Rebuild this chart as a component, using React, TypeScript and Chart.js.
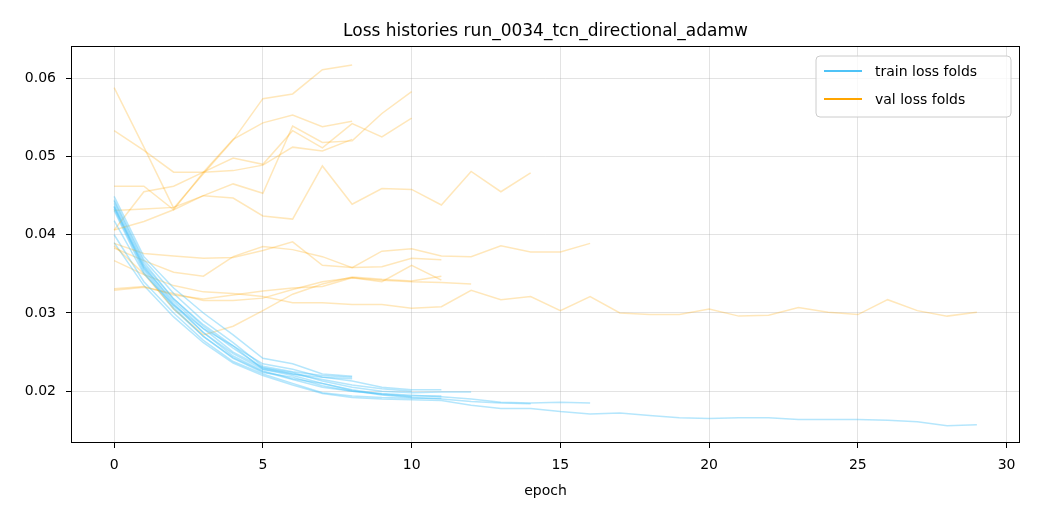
import React, { useEffect, useRef } from "react";
import { Chart, registerables } from "chart.js";

Chart.register(...registerables);

const TITLE = "Loss histories run_0034_tcn_directional_adamw";
const X_LABEL = "epoch";
const X_TICKS = [0, 5, 10, 15, 20, 25, 30];
const Y_TICKS = [0.02, 0.03, 0.04, 0.05, 0.06];
const LEGEND_LABELS = ["train loss folds", "val loss folds"];

const trainFold1 = [0.0449, 0.0372, 0.0332, 0.0300, 0.0272, 0.0242, 0.0235, 0.0222, 0.0219];
const trainFold2 = [0.0445, 0.0368, 0.0325, 0.0290, 0.0262, 0.0232, 0.0225, 0.0220, 0.0218];
const trainFold3 = [0.0418, 0.0350, 0.0310, 0.0280, 0.0258, 0.0228, 0.0222, 0.0218, 0.0216];
const trainFold4 = [0.0443, 0.0365, 0.0318, 0.0283, 0.0255, 0.0230, 0.0222, 0.0215, 0.0208, 0.0203, 0.0200];
const trainFold5 = [0.0437, 0.0360, 0.0312, 0.0275, 0.0245, 0.0226, 0.0216, 0.0210, 0.0202, 0.0196, 0.0193];
const trainFold6 = [0.0440, 0.0362, 0.0318, 0.0285, 0.0258, 0.0235, 0.0228, 0.0218, 0.0213, 0.0205, 0.0202, 0.0202];
const trainFold7 = [0.0433, 0.0355, 0.0307, 0.0270, 0.0243, 0.0225, 0.0215, 0.0205, 0.0200, 0.0196, 0.0194, 0.0194];
const trainFold8 = [0.0400, 0.0340, 0.0300, 0.0265, 0.0238, 0.0222, 0.0210, 0.0198, 0.0194, 0.0192, 0.0191, 0.0191];
const trainFold9 = [0.0435, 0.0358, 0.0315, 0.0280, 0.0250, 0.0230, 0.0224, 0.0213, 0.0205, 0.0200, 0.0198, 0.0199, 0.0199];
const trainFold10 = [0.0436, 0.0357, 0.0310, 0.0275, 0.0248, 0.0228, 0.0220, 0.0210, 0.0201, 0.0195, 0.0192, 0.0190, 0.0187, 0.0185, 0.0184];
const trainFold11 = [0.0431, 0.0352, 0.0305, 0.0270, 0.0242, 0.0224, 0.0218, 0.0207, 0.0200, 0.0197, 0.0195, 0.0193, 0.0190, 0.0186, 0.0185, 0.0186, 0.0185];
const trainFold12 = [0.0390, 0.0335, 0.0295, 0.0262, 0.0236, 0.0220, 0.0208, 0.0197, 0.0192, 0.0190, 0.0189, 0.0188, 0.0182, 0.0178, 0.0178, 0.0174, 0.0171, 0.0172, 0.0169, 0.0166, 0.0165, 0.0166, 0.0166, 0.0164, 0.0164, 0.0164, 0.0163, 0.0161, 0.0156, 0.0157];

const valFold1 = [0.0588, 0.0512, 0.0434, 0.0478, 0.0521, 0.0574, 0.0580, 0.0611, 0.0617];
const valFold2 = [0.0462, 0.0462, 0.0432, 0.0480, 0.0522, 0.0543, 0.0553, 0.0538, 0.0545];
const valFold3 = [0.0533, 0.0508, 0.0480, 0.0480, 0.0482, 0.0489, 0.0512, 0.0507, 0.0522];
const valFold4 = [0.0406, 0.0417, 0.0432, 0.0450, 0.0465, 0.0453, 0.0539, 0.0518, 0.0520, 0.0555, 0.0583];
const valFold5 = [0.0406, 0.0455, 0.0462, 0.0480, 0.0498, 0.0490, 0.0533, 0.0511, 0.0542, 0.0525, 0.0549];
const valFold6 = [0.0389, 0.0376, 0.0373, 0.0370, 0.0371, 0.0380, 0.0391, 0.0361, 0.0358, 0.0359, 0.0370, 0.0368];
const valFold7 = [0.0386, 0.0350, 0.0305, 0.0272, 0.0283, 0.0303, 0.0324, 0.0337, 0.0346, 0.0343, 0.0341, 0.0347];
const valFold8 = [0.0331, 0.0334, 0.0323, 0.0318, 0.0323, 0.0328, 0.0332, 0.0334, 0.0345, 0.0340, 0.0361, 0.0342];
const valFold9 = [0.0329, 0.0333, 0.0325, 0.0316, 0.0316, 0.0319, 0.0330, 0.0340, 0.0345, 0.0342, 0.0340, 0.0339, 0.0337];
const valFold10 = [0.0431, 0.0433, 0.0435, 0.0450, 0.0447, 0.0424, 0.0420, 0.0488, 0.0439, 0.0459, 0.0458, 0.0438, 0.0481, 0.0455, 0.0479];
const valFold11 = [0.0383, 0.0367, 0.0352, 0.0347, 0.0372, 0.0385, 0.0381, 0.0372, 0.0358, 0.0379, 0.0382, 0.0373, 0.0372, 0.0386, 0.0378, 0.0378, 0.0389];
const valFold12 = [0.0367, 0.0349, 0.0335, 0.0327, 0.0325, 0.0321, 0.0313, 0.0313, 0.0311, 0.0311, 0.0306, 0.0308, 0.0329, 0.0317, 0.0321, 0.0303, 0.0321, 0.0300, 0.0298, 0.0298, 0.0305, 0.0296, 0.0297, 0.0307, 0.0301, 0.0298, 0.0317, 0.0303, 0.0296, 0.0301];

const TRAIN_FOLDS = [trainFold1, trainFold2, trainFold3, trainFold4, trainFold5, trainFold6, trainFold7, trainFold8, trainFold9, trainFold10, trainFold11, trainFold12];
const VAL_FOLDS = [valFold1, valFold2, valFold3, valFold4, valFold5, valFold6, valFold7, valFold8, valFold9, valFold10, valFold11, valFold12];

const TRAIN_COLOR = "#4fc3f7";
const VAL_COLOR = "#ffa500";
const TRAIN_ALPHA_COLOR = "rgba(79,195,247,0.42)";
const VAL_ALPHA_COLOR = "rgba(255,165,0,0.27)";
const FONT = "'DejaVu Sans', sans-serif";

const W = 1040;
const H = 520;
const AREA = { left: 71, top: 46, right: 1020, bottom: 443 };

const decorPlugin = {
  id: "decor",
  afterDraw(chart: any) {
    const ctx = chart.ctx;
    const a = chart.chartArea;
    ctx.save();
    ctx.strokeStyle = "#000";
    ctx.lineWidth = 1;
    ctx.strokeRect(a.left + 0.5, a.top + 0.5, a.right - a.left - 1, a.bottom - a.top - 1);
    ctx.fillStyle = "#000";
    ctx.font = `17px ${FONT}`;
    ctx.textAlign = "center";
    ctx.textBaseline = "alphabetic";
    ctx.fillText(TITLE, (a.left + a.right) / 2, 36);
    ctx.font = `14px ${FONT}`;
    ctx.fillText(X_LABEL, (a.left + a.right) / 2, 495);
    const lx = 816, ly = 56, lw = 195, lh = 61, r = 4;
    ctx.beginPath();
    ctx.moveTo(lx + r, ly);
    ctx.lineTo(lx + lw - r, ly);
    ctx.arcTo(lx + lw, ly, lx + lw, ly + r, r);
    ctx.lineTo(lx + lw, ly + lh - r);
    ctx.arcTo(lx + lw, ly + lh, lx + lw - r, ly + lh, r);
    ctx.lineTo(lx + r, ly + lh);
    ctx.arcTo(lx, ly + lh, lx, ly + lh - r, r);
    ctx.lineTo(lx, ly + r);
    ctx.arcTo(lx, ly, lx + r, ly, r);
    ctx.closePath();
    ctx.fillStyle = "rgba(255,255,255,0.8)";
    ctx.fill();
    ctx.strokeStyle = "#cccccc";
    ctx.stroke();
    const colors = [TRAIN_COLOR, VAL_COLOR];
    LEGEND_LABELS.forEach((label, i) => {
      const y = 71 + i * 28;
      ctx.strokeStyle = colors[i];
      ctx.lineWidth = 2;
      ctx.beginPath();
      ctx.moveTo(824, y);
      ctx.lineTo(862, y);
      ctx.stroke();
      ctx.fillStyle = "#000";
      ctx.font = `14px ${FONT}`;
      ctx.textAlign = "left";
      ctx.textBaseline = "middle";
      ctx.fillText(label, 875, y + 1);
    });
    ctx.restore();
  },
};

export default function App() {
  const ref = useRef<HTMLCanvasElement | null>(null);

  useEffect(() => {
    const canvas = ref.current;
    if (!canvas) return;
    const datasets: any[] = [];
    TRAIN_FOLDS.forEach((fold, k) => {
      datasets.push({
        label: `train fold ${k + 1}`,
        data: fold.map((v, i) => ({ x: i, y: v })),
        borderColor: TRAIN_ALPHA_COLOR,
        borderWidth: 1.5,
        pointRadius: 0,
        tension: 0,
        fill: false,
      });
      datasets.push({
        label: `val fold ${k + 1}`,
        data: VAL_FOLDS[k].map((v, i) => ({ x: i, y: v })),
        borderColor: VAL_ALPHA_COLOR,
        borderWidth: 1.5,
        pointRadius: 0,
        tension: 0,
        fill: false,
      });
    });

    const chart = new Chart(canvas, {
      type: "line",
      data: { datasets },
      options: {
        animation: false,
        responsive: false,
        devicePixelRatio: 1,
        layout: { padding: { top: AREA.top, right: W - AREA.right, left: 0, bottom: 0 } },
        plugins: {
          legend: { display: false },
          tooltip: { enabled: false },
          title: { display: false },
        },
        scales: {
          x: {
            type: "linear",
            min: -1.45,
            max: 30.45,
            afterFit: (s: any) => {
              s.height = H - AREA.bottom;
            },
            afterBuildTicks: (s: any) => {
              s.ticks = X_TICKS.map((v) => ({ value: v }));
            },
            grid: {
              color: "rgba(176,176,176,0.35)",
              tickColor: "#000",
              tickLength: 5,
              drawOnChartArea: true,
            },
            border: { display: false },
            ticks: {
              color: "#000",
              padding: 9,
              font: { family: FONT, size: 14 },
              callback: (v: any) => String(v),
              maxRotation: 0,
            },
          },
          y: {
            type: "linear",
            min: 0.01338,
            max: 0.06413,
            afterFit: (s: any) => {
              s.width = AREA.left;
            },
            afterBuildTicks: (s: any) => {
              s.ticks = Y_TICKS.map((v) => ({ value: v }));
            },
            grid: {
              color: "rgba(176,176,176,0.35)",
              tickColor: "#000",
              tickLength: 5,
            },
            border: { display: false },
            ticks: {
              color: "#000",
              padding: 10,
              font: { family: FONT, size: 14 },
              callback: (v: any) => Number(v).toFixed(2),
            },
          },
        },
      },
      plugins: [decorPlugin],
    });
    return () => chart.destroy();
  }, []);

  return (
    <div style={{ position: "fixed", left: 0, top: 0, width: W, height: H, background: "#fff" }}>
      <canvas ref={ref} width={W} height={H} style={{ display: "block", width: W, height: H }} />
    </div>
  );
}
